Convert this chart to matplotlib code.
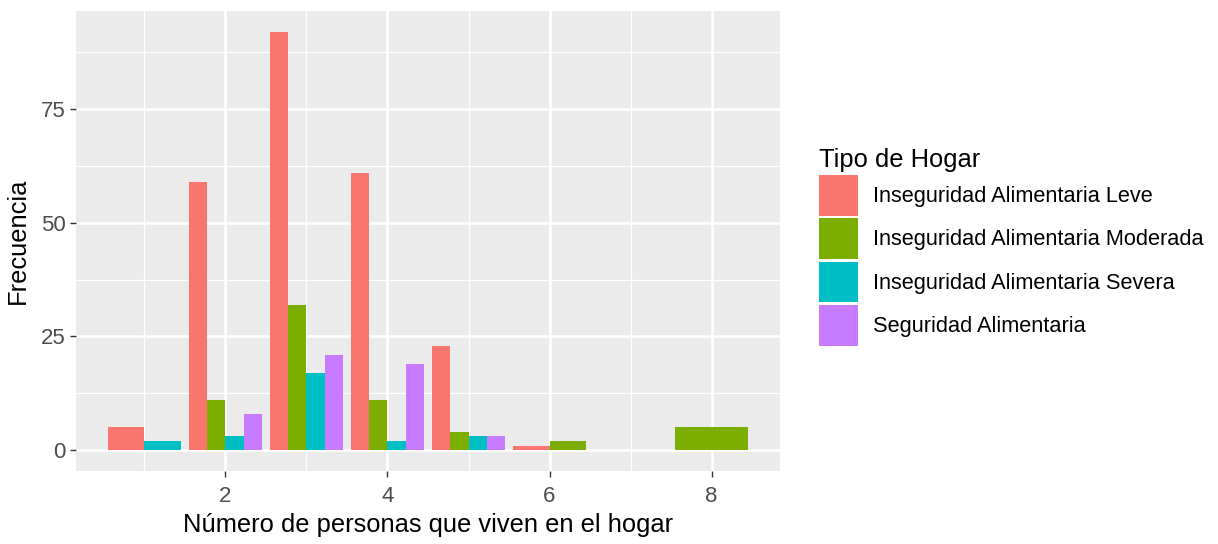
import matplotlib
matplotlib.use('Agg')
import matplotlib.pyplot as plt
from matplotlib.patches import Patch
import numpy as np

# datos: frecuencia por número de personas y tipo de hogar
personas = [1, 2, 3, 4, 5, 6, 8]
tipos = [
    "Inseguridad Alimentaria Leve",
    "Inseguridad Alimentaria Moderada",
    "Inseguridad Alimentaria Severa",
    "Seguridad Alimentaria",
]
leve = [5, 59, 92, 61, 23, 1, 0]
moderada = [0, 11, 32, 11, 4, 2, 5]
severa = [2, 3, 17, 2, 3, 0, 0]
seguridad = [0, 8, 21, 19, 3, 0, 0]
colores = ["#F8766D", "#7CAE00", "#00BFC4", "#C77CFF"]

plt.rcParams['font.family'] = ['Liberation Sans', 'DejaVu Sans']

fig = plt.figure(figsize=(12.18, 5.44), dpi=100)
ax = fig.add_axes([76 / 1218, 73 / 544, 704 / 1218, 460 / 544])
ax.set_facecolor("#EBEBEB")
for s in ax.spines.values():
    s.set_visible(False)

series = [leve, moderada, severa, seguridad]
ancho = 0.9
# position_dodge: sólo los grupos presentes comparten el ancho
for i, x in enumerate(personas):
    presentes = [k for k in range(len(series)) if series[k][i] > 0]
    n = len(presentes)
    w = ancho / n
    for j, k in enumerate(presentes):
        xc = x - ancho / 2 + w * (j + 0.5)
        ax.bar(xc, series[k][i], width=w, color=colores[k], linewidth=0, zorder=3)

# escalas con expansión del 5%
xmin, xmax = min(personas) - 0.45, max(personas) + 0.45
rx = xmax - xmin
ax.set_xlim(xmin - 0.05 * rx, xmax + 0.05 * rx)
ymax = max(max(s) for s in series)
ax.set_ylim(-0.05 * ymax, ymax * 1.05)

ax.set_xticks([2, 4, 6, 8])
ax.set_xticks([1, 3, 5, 7], minor=True)
ax.set_yticks([0, 25, 50, 75])
ax.set_yticks([12.5, 37.5, 62.5, 87.5], minor=True)
ax.grid(True, which='major', color='white', linewidth=1.8, zorder=0)
ax.grid(True, which='minor', color='white', linewidth=0.9, zorder=0)
ax.set_axisbelow(True)
ax.tick_params(which='major', length=4.6, width=1.0, color='#333333',
               labelsize=16, labelcolor='#4D4D4D')
ax.tick_params(axis='x', which='major', pad=6.5)
ax.tick_params(axis='y', which='major', pad=3)
ax.tick_params(which='minor', length=0)

ax.set_xlabel("Número de personas que viven en el hogar", fontsize=18.4, labelpad=4)
ax.set_ylabel("Frecuencia", fontsize=18.4, labelpad=8)

handles = [Patch(facecolor=c, edgecolor='none') for c in colores]
leg = ax.legend(handles, tipos, title="Tipo de Hogar", loc='center left',
                bbox_to_anchor=(810 / 1218, 1 - 247 / 544),
                bbox_transform=fig.transFigure, frameon=False,
                fontsize=15.7, title_fontsize=18.4, alignment='left',
                handlelength=1.8, handleheight=2.5, labelspacing=0.12,
                handletextpad=0.68, borderpad=0.4, borderaxespad=0)

fig.savefig("out.png", dpi=100, facecolor='white')
